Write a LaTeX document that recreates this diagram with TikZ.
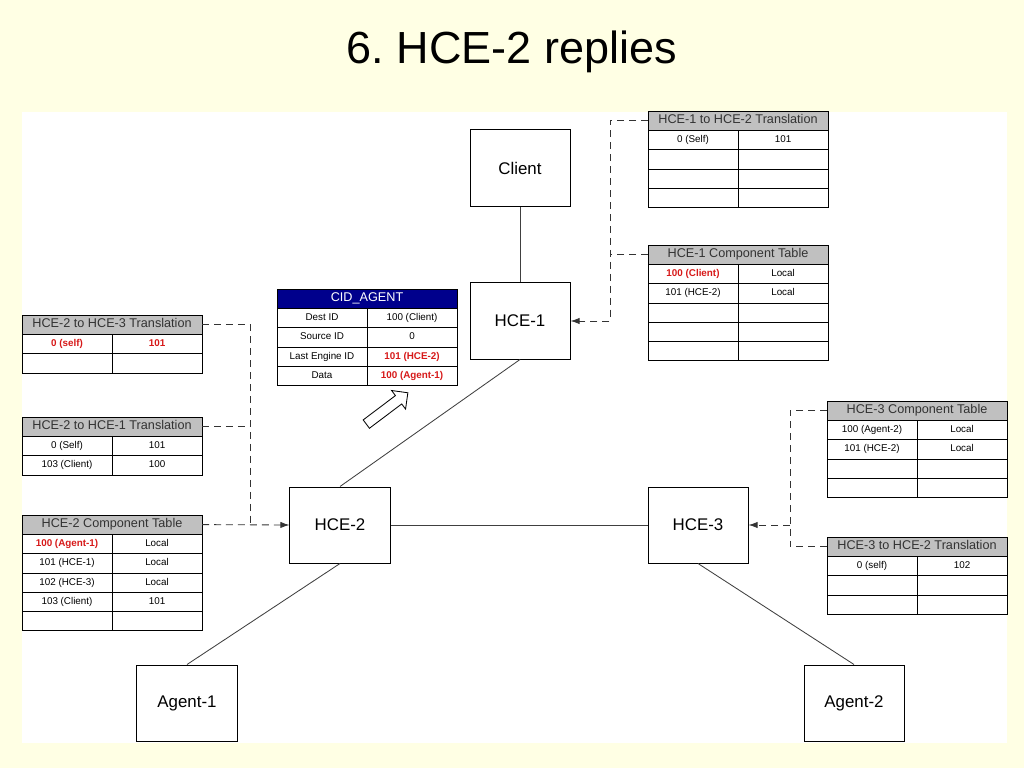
\documentclass[tikz,border=0pt]{standalone}
\usepackage{fontspec}
\setmainfont{Liberation Sans}
\usetikzlibrary{positioning,matrix,shapes.arrows,arrows.meta}
\definecolor{pagebg}{RGB}{255,255,228}
\definecolor{hdrgray}{RGB}{192,192,192}
\definecolor{cidblue}{RGB}{0,0,140}
\definecolor{hotred}{RGB}{215,25,25}

\begin{document}
\begin{tikzpicture}[x=0.025cm,y=-0.025cm,
  box/.style={rectangle,draw,line width=0.7pt,fill=white,minimum width=2.5cm,minimum height=1.9cm,font=\fontsize{12}{14}\selectfont},
  hdr/.style={rectangle,draw,line width=0.6pt,fill=hdrgray,minimum width=4.5cm,minimum height=0.48cm,inner sep=0pt,outer sep=0pt,text height=6.5pt,text depth=2pt,font=\fontsize{9}{10}\selectfont,text=black!80},
  cidhdr/.style={hdr,fill=cidblue,text=white},
  cell/.style={rectangle,draw,line width=0.6pt,minimum width=2.25cm,minimum height=0.48cm,inner sep=0pt,anchor=center,text height=5pt,text depth=1.6pt,font=\fontsize{7}{8}\selectfont},
  hot/.style={text=hotred,font=\fontsize{7}{8}\selectfont\bfseries},
  tbl/.style={matrix of nodes,nodes in empty cells,inner sep=0pt,outer sep=0pt,column sep=-0.6pt,row sep=-0.6pt,nodes={cell}},
  wire/.style={draw=black!75,line width=0.6pt},
  link/.style={draw=black!80,line width=0.6pt,dash pattern=on 5pt off 3.5pt},
  tip/.style={-{Latex[length=6.5pt,width=4.5pt]}},
  fatarrow/.style={single arrow,draw,line width=0.6pt,fill=white,minimum height=1.3cm,inner sep=0.12cm,single arrow head extend=0.16cm}]

% page
\useasboundingbox (0,0) rectangle (1024,768);
\fill[pagebg] (0,0) rectangle (1024,768);
\fill[white] (22,112) rectangle (1007,743);
\node (title) at (512,52) {\fontsize{32}{36}\selectfont 6.\ HCE-2 replies};

% engines and end points
\node[box] at (520,168) (client) {Client};
\node[box] at (520,321) (hce1) {HCE-1};
\node[box] at (340,525) (hce2) {HCE-2};
\node[box] at (698,525) (hce3) {HCE-3};
\node[box] at (187,703) (agent1) {Agent-1};
\node[box] at (854,703) (agent2) {Agent-2};

\draw[wire] (client.south) -- (hce1.north);
\draw[wire] (hce1.south) -- (hce2.north);
\draw[wire] (hce2) -- (hce3);
\draw[wire] (hce2.south) -- (agent1.north);
\draw[wire] (hce3.south) -- (agent2.north);

% message in flight
\node[cidhdr,anchor=north west] at (277,289) (cid) {CID\_AGENT};
\matrix[tbl,below=0pt of cid] (cidt) {
  Dest ID & 100 (Client) \\
  Source ID & 0 \\
  Last Engine ID & |[hot]| 101 (HCE-2) \\
  Data & |[hot]| 100 (Agent-1) \\
};
\node[fatarrow,rotate=37] at (385,410) (hint) {};

% HCE-1 tables
\node[hdr,anchor=north west] at (648,111) (h1t) {HCE-1 to HCE-2 Translation};
\matrix[tbl,below=0pt of h1t] (h1tt) {
  0 (Self) & 101 \\
  & \\
  & \\
  & \\
};
\node[hdr,anchor=north west] at (648,245) (h1c) {HCE-1 Component Table};
\matrix[tbl,below=0pt of h1c] (h1ct) {
  |[hot]| 100 (Client) & Local \\
  101 (HCE-2) & Local \\
  & \\
  & \\
  & \\
};

% HCE-2 tables
\node[hdr,anchor=north west] at (22,315) (h23) {HCE-2 to HCE-3 Translation};
\matrix[tbl,below=0pt of h23] (h23t) {
  |[hot]| 0 (self) & |[hot]| 101 \\
  & \\
};
\node[hdr,anchor=north west] at (22,417) (h21) {HCE-2 to HCE-1 Translation};
\matrix[tbl,below=0pt of h21] (h21t) {
  0 (Self) & 101 \\
  103 (Client) & 100 \\
};
\node[hdr,anchor=north west] at (22,515) (h2c) {HCE-2 Component Table};
\matrix[tbl,below=0pt of h2c] (h2ct) {
  |[hot]| 100 (Agent-1) & Local \\
  101 (HCE-1) & Local \\
  102 (HCE-3) & Local \\
  103 (Client) & 101 \\
  & \\
};

% HCE-3 tables
\node[hdr,anchor=north west] at (827,401) (h3c) {HCE-3 Component Table};
\matrix[tbl,below=0pt of h3c] (h3ct) {
  100 (Agent-2) & Local \\
  101 (HCE-2) & Local \\
  & \\
  & \\
};
\node[hdr,anchor=north west] at (827,537) (h3t) {HCE-3 to HCE-2 Translation};
\matrix[tbl,below=0pt of h3t] (h3tt) {
  0 (self) & 102 \\
  & \\
  & \\
};

% table links
\coordinate (j1) at (610,321);
\coordinate (j2) at (250,525);
\coordinate (j3) at (790,525);
\draw[link,tip] (h1t.west) -| (j1) -- (hce1.east);
\draw[link] (h1c.west) -- (h1c.west -| j1);
\draw[link] (h23.east) -| (j2);
\draw[link] (h21.east) -- (h21.east -| j2);
\draw[link,tip] (h2c.east) -- (hce2.west);
\draw[link] (h3c.west) -| (j3) |- (h3t.west);
\draw[link,tip] (j3) -- (hce3.east);
\end{tikzpicture}
\end{document}
